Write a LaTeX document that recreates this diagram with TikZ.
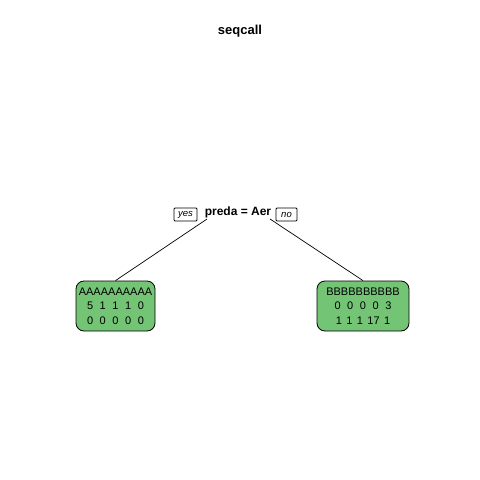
\documentclass[tikz,border=0pt]{standalone}
\usepackage{fontspec}
\setmainfont{Liberation Sans}
\definecolor{leaf}{HTML}{74C476}
\newcommand{\gp}{\hspace{6.6pt}}
\newcommand{\gq}{\hspace{4.4pt}}
\tikzset{
  leafbox/.style={draw=black, line width=0.8pt, fill=leaf, rounded corners=8pt, minimum height=50pt, inner sep=0pt, align=center, font=\fontsize{11}{14.7}\selectfont},
  tag/.style={draw=black, line width=0.8pt, fill=white, rounded corners=1pt, inner sep=2pt, minimum height=13pt, font=\fontsize{9.5}{10}\selectfont\itshape},
  split/.style={font=\fontsize{12}{14}\selectfont\bfseries, inner sep=1pt},
}
\begin{document}
\begin{tikzpicture}[x=1pt,y=-1pt]
\useasboundingbox (0,0) rectangle (480,480);
\node[font=\fontsize{13}{15}\selectfont\bfseries] (title) at (240,31) {seqcall};
\node[split] (root) at (238,212) {preda = Aer};
\node[tag, minimum width=23pt] (yes) at (185.5,214.5) {yes};
\node[tag, minimum width=21pt] (no) at (286.5,214.5) {no};
\node[leafbox, minimum width=79pt] (L) at (115.5,306) {AAAAAAAAAA\\5\gp1\gp1\gp1\gp0\\0\gp0\gp0\gp0\gp0};
\node[leafbox, minimum width=92pt] (R) at (363,306) {BBBBBBBBBB\\0\gp0\gp0\gp0\gp3\\1\gq1\gq1\gq17\gq1};
\coordinate (la) at (207,219);
\coordinate (ra) at (270,219);
\draw[line width=0.7pt] (la) -- (L.north);
\draw[line width=0.7pt] (ra) -- (R.north);
\end{tikzpicture}
\end{document}
